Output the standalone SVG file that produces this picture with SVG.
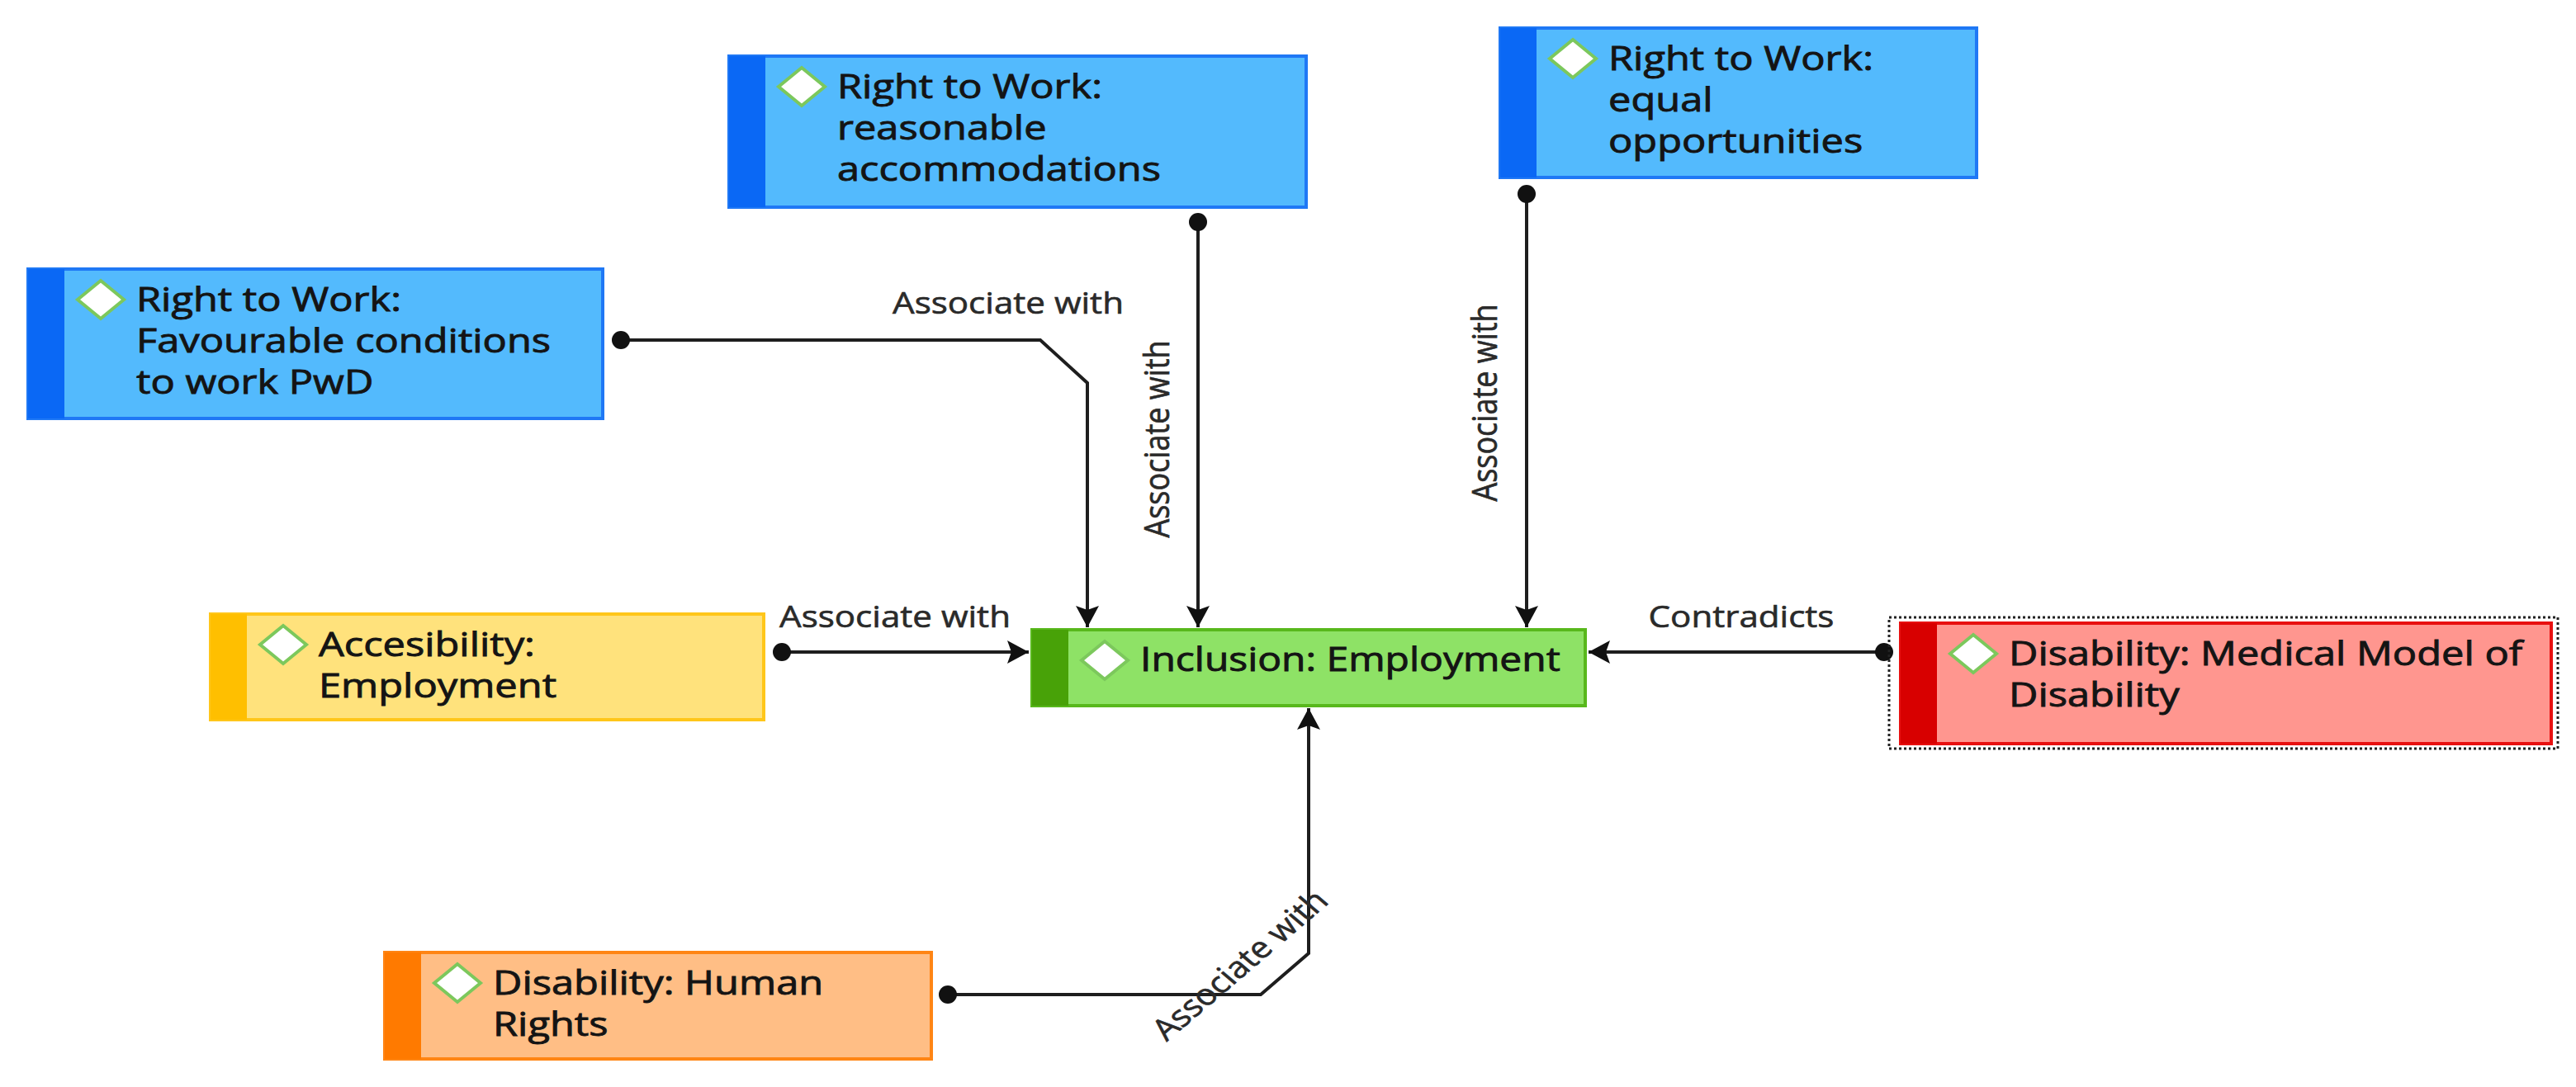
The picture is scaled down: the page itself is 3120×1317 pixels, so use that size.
<svg xmlns="http://www.w3.org/2000/svg" width="3120" height="1317" viewBox="0 0 3120 1317">
<style>
.bg{fill:#ffffff}
.ntext{font-family:"Open Sans","Noto Sans",sans-serif;font-size:41px;fill:#141414;stroke:#141414;stroke-width:0.9}
.ltext{font-family:"Open Sans","Noto Sans",sans-serif;font-size:36px;fill:#2a2a2a;stroke:#2a2a2a;stroke-width:0.6;text-anchor:middle}
.dia{fill:#ffffff;stroke:#7cc85c;stroke-width:4}
.blue .body{fill:#53bafd;stroke:#1f78f5;stroke-width:4}
.blue .strip{fill:#0a68f5}
.green .body{fill:#8ee266;stroke:#58b81c;stroke-width:4}
.green .strip{fill:#48a208}
.yellow .body{fill:#ffe27c;stroke:#ffc61a;stroke-width:4}
.yellow .strip{fill:#ffbf00}
.red .body{fill:#ff968f;stroke:#e81010;stroke-width:4}
.red .strip{fill:#d80000}
.orange .body{fill:#ffbe85;stroke:#ff8514;stroke-width:4}
.orange .strip{fill:#ff7a00}
.conn{fill:none;stroke:#1e1e1e;stroke-width:4;marker-start:url(#dot);marker-end:url(#arrow)}
.sel{fill:none;stroke:#222;stroke-width:3;stroke-dasharray:3 3}
</style>
<defs>
<marker id="dot" markerUnits="userSpaceOnUse" markerWidth="26" markerHeight="26" refX="13" refY="13" orient="0"><circle cx="13" cy="13" r="11" fill="#111"/></marker>
<marker id="arrow" markerUnits="userSpaceOnUse" markerWidth="30" markerHeight="32" refX="26" refY="16" orient="auto"><path d="M0,2 L26,16 L0,30 L5,16 z" fill="#111"/></marker>
</defs>
<rect class="bg" x="0" y="0" width="3120" height="1317"/>

<g id="connectors">
<path class="conn" d="M752,412 H1260 L1317,464 V760"/>
<path class="conn" d="M1451,269 V760"/>
<path class="conn" d="M1849,235 V760"/>
<path class="conn" d="M947,790 H1246"/>
<path class="conn" d="M2282,790 H1924"/>
<path class="conn" d="M1148,1205 H1527 L1585,1155 V858"/>
<text class="ltext" transform="translate(1221,380) scale(1.17,1)">Associate with</text>
<text class="ltext" transform="translate(1416,532) scale(1.17,1) rotate(-90)">Associate with</text>
<text class="ltext" transform="translate(1813,488) scale(1.17,1) rotate(-90)">Associate with</text>
<text class="ltext" transform="translate(1084,760) scale(1.17,1)">Associate with</text>
<text class="ltext" transform="translate(2109,760) scale(1.17,1)">Contradicts</text>
<text class="ltext" transform="translate(1512,1178) scale(1.17,1) rotate(-45)">Associate with</text>
</g>

<g id="node-reasonable" class="blue">
<rect class="body" x="883" y="68" width="699" height="183"/>
<rect class="strip" x="883" y="68" width="44" height="183"/>
<polygon class="dia" points="971,82 999,105 971,128 943,105"/>
<text class="ntext" transform="translate(1014,119) scale(1.19,1)"><tspan x="0" y="0">Right to Work:</tspan><tspan x="0" y="50">reasonable</tspan><tspan x="0" y="100">accommodations</tspan></text>
</g>

<g id="node-equal" class="blue">
<rect class="body" x="1817" y="34" width="577" height="181"/>
<rect class="strip" x="1817" y="34" width="44" height="181"/>
<polygon class="dia" points="1905,48 1933,71 1905,94 1877,71"/>
<text class="ntext" transform="translate(1948,85) scale(1.19,1)"><tspan x="0" y="0">Right to Work:</tspan><tspan x="0" y="50">equal</tspan><tspan x="0" y="100">opportunities</tspan></text>
</g>

<g id="node-favourable" class="blue">
<rect class="body" x="34" y="326" width="696" height="181"/>
<rect class="strip" x="34" y="326" width="44" height="181"/>
<polygon class="dia" points="122,340 150,363 122,386 94,363"/>
<text class="ntext" transform="translate(165,377) scale(1.19,1)"><tspan x="0" y="0">Right to Work:</tspan><tspan x="0" y="50">Favourable conditions</tspan><tspan x="0" y="100">to work PwD</tspan></text>
</g>

<g id="node-accessibility" class="yellow">
<rect class="body" x="255" y="744" width="670" height="128"/>
<rect class="strip" x="255" y="744" width="44" height="128"/>
<polygon class="dia" points="343,758 371,781 343,804 315,781"/>
<text class="ntext" transform="translate(386,795) scale(1.19,1)"><tspan x="0" y="0">Accesibility:</tspan><tspan x="0" y="50">Employment</tspan></text>
</g>

<g id="node-inclusion" class="green">
<rect class="body" x="1250" y="763" width="670" height="92"/>
<rect class="strip" x="1250" y="763" width="44" height="92"/>
<polygon class="dia" points="1338,777 1366,800 1338,823 1310,800"/>
<text class="ntext" transform="translate(1381,813) scale(1.17,1)">Inclusion: Employment</text>
</g>

<g id="node-medical" class="red">
<rect class="sel" x="2288" y="748" width="810" height="159"/>
<rect class="body" x="2302" y="755" width="788" height="146"/>
<rect class="strip" x="2302" y="755" width="44" height="146"/>
<polygon class="dia" points="2390,769 2418,792 2390,815 2362,792"/>
<text class="ntext" transform="translate(2433,806) scale(1.19,1)"><tspan x="0" y="0">Disability: Medical Model of</tspan><tspan x="0" y="50">Disability</tspan></text>
</g>

<g id="node-human" class="orange">
<rect class="body" x="466" y="1154" width="662" height="129"/>
<rect class="strip" x="466" y="1154" width="44" height="129"/>
<polygon class="dia" points="554,1168 582,1191 554,1214 526,1191"/>
<text class="ntext" transform="translate(597,1205) scale(1.19,1)"><tspan x="0" y="0">Disability: Human</tspan><tspan x="0" y="50">Rights</tspan></text>
</g>
</svg>
